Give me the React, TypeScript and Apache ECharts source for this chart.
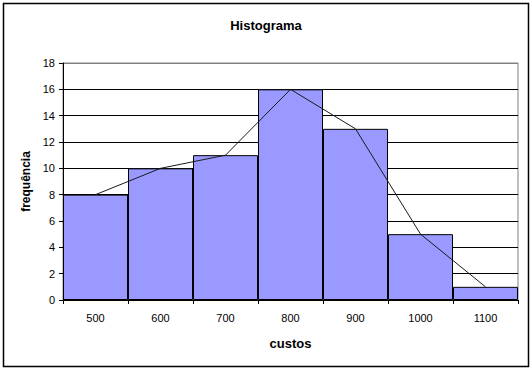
import React, { useEffect, useRef } from "react";
import * as echarts from "echarts";

const categories = ["500", "600", "700", "800", "900", "1000", "1100"];
const frequencies = [8, 10, 11, 16, 13, 5, 1];
const polygonValues = [8, 10, 11, 16, 13, 5, 1];

export default function App() {
  const ref = useRef<HTMLDivElement>(null);
  useEffect(() => {
    document.body.style.margin = "0";
    const chart = echarts.init(ref.current!, null, { renderer: "svg" });
    const font = "Arial, 'Liberation Sans', sans-serif";
    chart.setOption({
      animation: false,
      backgroundColor: "#ffffff",
      title: {
        text: "Histograma",
        left: "center",
        top: 14,
        textStyle: { fontFamily: font, fontSize: 13, fontWeight: "bold", color: "#000" },
      },
      graphic: [
        {
          type: "rect",
          shape: { x: 3.5, y: 3.5, width: 525, height: 363 },
          style: { fill: "none", stroke: "#000", lineWidth: 1.5 },
          silent: true,
        },
      ],
      grid: { left: 63, right: 14, top: 63, bottom: 70, show: true, borderColor: "#808080", borderWidth: 1 },
      xAxis: {
        type: "category",
        data: categories,
        boundaryGap: true,
        name: "custos",
        nameLocation: "middle",
        nameGap: 37,
        nameTextStyle: { fontFamily: font, fontSize: 13, fontWeight: "bold", color: "#000" },
        axisLine: { lineStyle: { color: "#000", width: 1 } },
        axisTick: { show: true, length: 4, lineStyle: { color: "#000" } },
        axisLabel: { fontFamily: font, fontSize: 11, color: "#000", margin: 12 },
      },
      yAxis: {
        type: "value",
        min: 0,
        max: 18,
        interval: 2,
        name: "frequência",
        nameLocation: "middle",
        nameGap: 28,
        nameRotate: 90,
        nameTextStyle: { fontFamily: font, fontSize: 12, fontWeight: "bold", color: "#000" },
        axisLine: { show: true, lineStyle: { color: "#000", width: 1 } },
        axisTick: { show: true, length: 4, lineStyle: { color: "#000" } },
        axisLabel: { fontFamily: font, fontSize: 11, color: "#000", margin: 8 },
        splitLine: {
          show: true,
          lineStyle: {
            color: ["#000", "#000", "#000", "#000", "#000", "#000", "#000", "#000", "#000", "#808080"],
            width: 1,
          },
        },
      },
      series: [
        {
          type: "bar",
          data: frequencies,
          barCategoryGap: "0%",
          itemStyle: { color: "#9999FF", borderColor: "#000", borderWidth: 1 },
          silent: true,
        },
        {
          type: "line",
          data: polygonValues,
          symbol: "none",
          lineStyle: { color: "#1a1a1a", width: 1 },
          silent: true,
          z: 5,
        },
      ],
    });
    return () => chart.dispose();
  }, []);
  return <div ref={ref} style={{ width: 532, height: 370, position: "absolute", left: 0, top: 0 }} />;
}
